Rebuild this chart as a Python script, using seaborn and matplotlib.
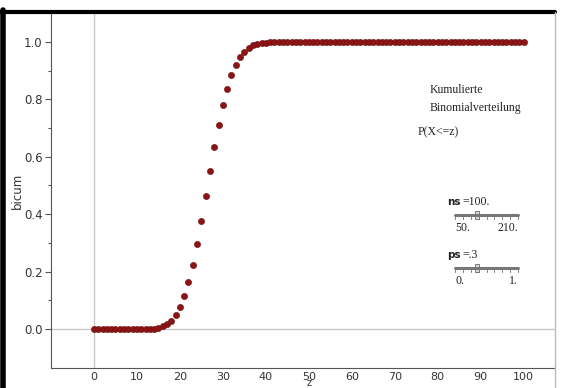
import numpy as np
import pandas as pd
import matplotlib
matplotlib.use("Agg")
import matplotlib.pyplot as plt
import seaborn as sns
from matplotlib.lines import Line2D
from matplotlib.patches import Rectangle

# values (cumulative binomial, n=100, p=0.3)
z_values = list(range(0, 101))
bicum_head = [0.0] * 15 + [
    0.004, 0.009, 0.017, 0.029, 0.048, 0.076, 0.114, 0.163, 0.224, 0.296,
    0.377, 0.462, 0.549, 0.633, 0.711, 0.779, 0.837, 0.884, 0.920, 0.947,
    0.966, 0.979, 0.988, 0.993, 0.996, 0.998, 0.999,
]
bicum_values = bicum_head + [1.0] * (len(z_values) - len(bicum_head))
x_ticks = list(range(0, 101, 10))
y_ticks = [0.0, 0.2, 0.4, 0.6, 0.8, 1.0]
title_lines = ["Kumulierte", "Binomialverteilung"]
prob_label = "P(X<=z)"

df = pd.DataFrame({"z": z_values, "bicum": bicum_values})

sns.set_style("white")
plt.rcParams["font.family"] = ["DejaVu Sans"]

W, H = 562, 388
fig = plt.figure(figsize=(W / 100, H / 100), dpi=100)
ax = fig.add_axes([51 / W, 20 / H, (555 - 51) / W, (368 - 13) / H])

ax.axhline(0, color="#c8c8c8", lw=1, zorder=0)
ax.axvline(0, color="#c8c8c8", lw=1, zorder=0)

sns.scatterplot(data=df, x="z", y="bicum", ax=ax, color="#8c1414",
                edgecolor="#6a0f0f", linewidth=0.4, s=20, zorder=3)

ax.set_xlim(-10, 107.3)
ax.set_ylim(-0.136, 1.101)
ax.set_xticks(x_ticks)
ax.set_yticks(y_ticks)
ax.set_yticks(np.arange(0.1, 1.0, 0.2), minor=True)
ax.set_yticklabels([f"{v:.1f}" for v in y_ticks])

for s in ["top", "right"]:
    ax.spines[s].set_visible(False)
for s in ["left", "bottom"]:
    ax.spines[s].set_color("#555555")
    ax.spines[s].set_linewidth(0.8)

ax.tick_params(axis="both", which="both", direction="out", colors="#555555",
               labelcolor="#333333", labelsize=8.5, width=0.8)
ax.tick_params(axis="both", which="major", length=4, pad=2)
ax.tick_params(axis="x", which="major", length=3, pad=0, labelsize=8)
ax.tick_params(axis="y", which="minor", length=2.5)
ax.tick_params(axis="y", which="both", left=True)

ax.set_xlabel("")
ax.set_ylabel("bicum", fontsize=8.5, color="#333333", labelpad=0)
fig.text(309 / W, 0, "z", fontsize=7, color="#333333",
         ha="center", va="bottom")

# text block (serif)
serif = ["Liberation Serif", "DejaVu Serif"]
fig.text(430 / W, 1 - 90 / H, title_lines[0], family=serif, fontsize=8.5,
         color="#222222", va="center")
fig.text(430 / W, 1 - 108 / H, title_lines[1], family=serif, fontsize=8.5,
         color="#222222", va="center")
fig.text(418 / W, 1 - 132 / H, prob_label, family=serif, fontsize=8.5,
         color="#222222", va="center")


def slider(y_text, name, value, lo, hi, thumb):
    fig.text(447 / W, 1 - y_text / H, name, fontsize=7.5, weight="bold",
             color="#222222", va="center")
    fig.text(462 / W, 1 - y_text / H, "=" + value, family=serif, fontsize=8.5,
             color="#222222", va="center")
    ys = y_text + 13
    fig.add_artist(Line2D([455 / W, 518 / W], [1 - ys / H, 1 - ys / H],
                          color="#777777", lw=2.2))
    for k in range(9):
        xk = 455 + k * (518 - 455) / 8
        fig.add_artist(Line2D([xk / W, xk / W], [1 - (ys + 2) / H, 1 - (ys + 4) / H],
                              color="#777777", lw=0.7))
    fig.add_artist(Rectangle(((thumb - 2) / W, 1 - (ys + 4) / H), 4 / W, 8 / H,
                             facecolor="#dddddd", edgecolor="#777777", lw=0.7))
    fig.text(455 / W, 1 - (ys + 13) / H, lo, family=serif, fontsize=8.5,
             color="#222222", va="center")
    fig.text(518 / W, 1 - (ys + 13) / H, hi, family=serif, fontsize=8.5,
             color="#222222", va="center", ha="right")


slider(202, "ns", "100.", "50.", "210.", 477)
slider(255, "ps", ".3", "0.", "1.", 477)

# outer frame of the screenshot
fig.add_artist(Line2D([3 / W, 3 / W], [0, 1 - 10 / H], color="black", lw=4))
fig.add_artist(Line2D([1 / W, 555 / W], [1 - 12 / H, 1 - 12 / H], color="black", lw=3))
fig.add_artist(Line2D([555 / W, 555 / W], [0, 1 - 12 / H], color="#bbbbbb", lw=1))

fig.savefig("out.png", dpi=100)
